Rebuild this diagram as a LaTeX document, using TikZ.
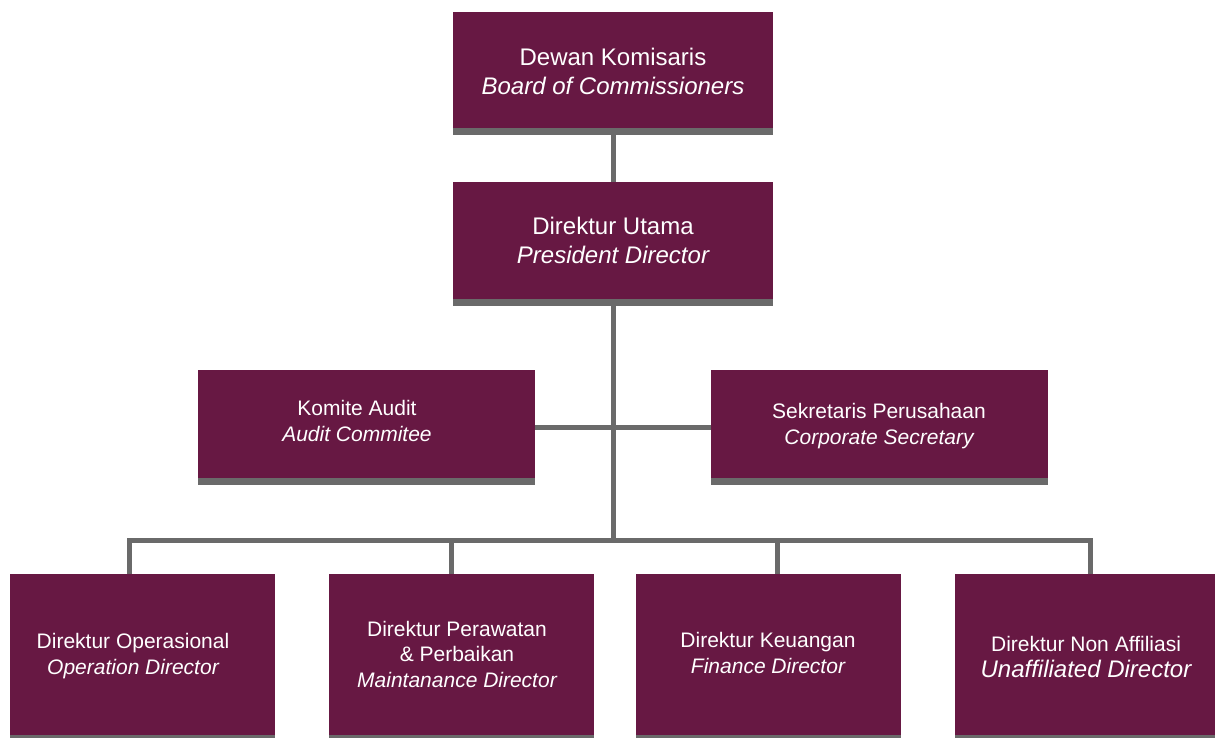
\documentclass[tikz,border=0pt]{standalone}
\usepackage{fontspec}
\setmainfont{Liberation Sans}
\definecolor{maroon}{HTML}{671843}
\definecolor{lgrey}{HTML}{6A6A6A}
\tikzset{
  orgbox/.style={draw=none, fill=lgrey, inner sep=0pt, outer sep=0pt,
    path picture={\fill[maroon] (path picture bounding box.north west) rectangle ([yshift=7pt]path picture bounding box.south east);}},
  lbl/.style={text=white, align=center, inner sep=0pt, font=\fontsize{21}{25.5}\selectfont},
  biglbl/.style={lbl, font=\fontsize{24}{29}\selectfont},
  conn/.style={draw=lgrey, line width=5pt, line join=miter}
}
\begin{document}
\begin{tikzpicture}[x=1pt,y=-1pt]
\useasboundingbox (0,0) rectangle (1215,738);
% boxes
\node[orgbox, minimum width=320pt, minimum height=123pt] (boc) at (613,73.5) {};
\node[orgbox, minimum width=320pt, minimum height=124pt] (pres) at (613,244) {};
\node[orgbox, minimum width=337pt, minimum height=115pt] (komite) at (366.5,427.5) {};
\node[orgbox, minimum width=337pt, minimum height=115pt] (sek) at (879.5,427.5) {};
\node[orgbox, minimum width=265pt, minimum height=168pt] (op) at (142.5,658) {};
\node[orgbox, minimum width=265pt, minimum height=168pt] (mt) at (461.5,658) {};
\node[orgbox, minimum width=265pt, minimum height=168pt] (fin) at (768.5,658) {};
\node[orgbox, minimum width=263pt, minimum height=168pt] (nf) at (1086.5,658) {};
% texts
\node[biglbl] (tboc) at (613,71) {Dewan Komisaris\\\itshape Board of Commissioners};
\node[biglbl] (tpres) at (613,240) {Direktur Utama\\\itshape President Director};
\node[lbl] (tkomite) at (357,421) {Komite Audit\\\itshape Audit Commitee};
\node[lbl] (tsek) at (879,426) {Sekretaris Perusahaan\\\itshape Corporate Secretary};
\node[lbl] (top) at (133,656) {Direktur Operasional\\\itshape Operation Director};
\node[lbl] (tmt) at (457,654) {Direktur Perawatan\\\& Perbaikan\\\itshape Maintanance Director};
\node[lbl] (tfin) at (768,653) {Direktur Keuangan\\\itshape Finance Director};
\node[lbl] (tnf) at (1086,657) {Direktur Non Affiliasi\\\fontsize{24}{29}\selectfont\itshape Unaffiliated Director};
% connectors
\coordinate (busy) at (0,540);
\coordinate (d1) at (129,540);
\coordinate (d2) at (451,540);
\coordinate (d3) at (777,540);
\coordinate (d4) at (1090,540);
\draw[conn] (boc.south) -- (pres.north);
\draw[conn] (pres.south) -- (pres.south |- busy);
\draw[conn] (komite.east) -- (sek.west);
\draw[conn] (d1 |- op.north) -- (d1) -- (d4) -- (d4 |- nf.north);
\draw[conn] (d2) -- (d2 |- mt.north);
\draw[conn] (d3) -- (d3 |- fin.north);
\end{tikzpicture}
\end{document}
